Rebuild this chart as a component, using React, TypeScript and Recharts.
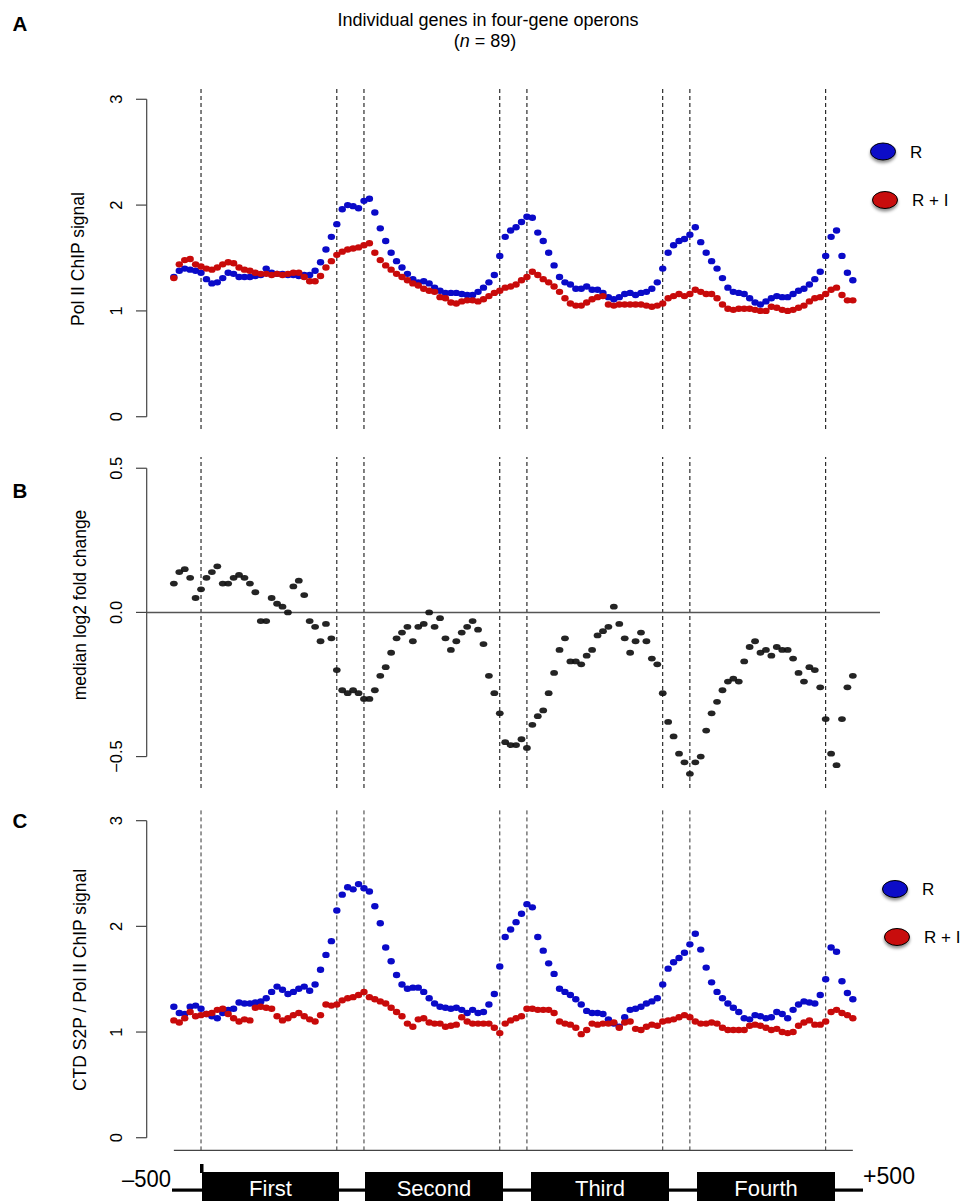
import React from 'react';
import { ComposedChart, Line, XAxis, YAxis, ReferenceLine } from 'recharts';

const FONT = '"Liberation Sans", Arial, Helvetica, sans-serif';

// meta-gene positions: upstream -500 = -1, each gene = 5 units, each spacer = 1 unit
const firstPosition = -1;
const positionStep = 0.2;
const geneEdges = [0, 5, 6, 11, 12, 17, 18, 23];
const genes = ['First', 'Second', 'Third', 'Fourth'];

// A: Pol II ChIP signal
const polIIR = [
  1.32, 1.38, 1.4, 1.39, 1.38, 1.36, 1.3, 1.26, 1.27, 1.31,
  1.36, 1.35, 1.32, 1.32, 1.32, 1.33, 1.34, 1.4, 1.36, 1.35,
  1.35, 1.34, 1.34, 1.33, 1.34, 1.34, 1.38, 1.46, 1.58, 1.7,
  1.82, 1.96, 2.0, 1.99, 1.97, 2.04, 2.06, 1.93, 1.78, 1.66,
  1.55, 1.47, 1.41, 1.35, 1.3, 1.27, 1.28, 1.26, 1.22, 1.19,
  1.17, 1.17, 1.17, 1.16, 1.15, 1.15, 1.18, 1.22, 1.27, 1.34,
  1.52, 1.7, 1.76, 1.79, 1.84, 1.89, 1.88, 1.74, 1.66, 1.55,
  1.43, 1.32, 1.27, 1.25, 1.21, 1.21, 1.23, 1.2, 1.2, 1.17,
  1.13, 1.11, 1.13, 1.16, 1.17, 1.15, 1.17, 1.18, 1.21, 1.27,
  1.4, 1.55, 1.62, 1.66, 1.68, 1.72, 1.79, 1.65, 1.55, 1.47,
  1.4, 1.31, 1.22, 1.18, 1.17, 1.16, 1.12, 1.08, 1.06, 1.09,
  1.12, 1.14, 1.13, 1.13, 1.16, 1.19, 1.21, 1.25, 1.3, 1.37,
  1.52, 1.7, 1.76, 1.52, 1.36, 1.29,
];
const polIIRI = [
  1.31, 1.44, 1.48, 1.49, 1.44, 1.42, 1.4, 1.39, 1.41, 1.44,
  1.46, 1.45, 1.41, 1.39, 1.38, 1.36, 1.35, 1.35, 1.34, 1.35,
  1.34, 1.35, 1.36, 1.36, 1.32, 1.28, 1.28, 1.33, 1.41, 1.47,
  1.53, 1.56, 1.58, 1.59, 1.6, 1.62, 1.64, 1.55, 1.48, 1.43,
  1.39, 1.35, 1.32, 1.29, 1.26, 1.24, 1.21, 1.19, 1.18, 1.13,
  1.12, 1.08, 1.07, 1.09, 1.1, 1.1, 1.09, 1.11, 1.14, 1.17,
  1.19, 1.22, 1.23, 1.25, 1.29, 1.32, 1.37, 1.34, 1.3, 1.27,
  1.23, 1.18, 1.12, 1.07, 1.05, 1.05, 1.08, 1.11, 1.13, 1.14,
  1.06, 1.05, 1.06, 1.06, 1.06, 1.06, 1.06, 1.05, 1.04, 1.05,
  1.07, 1.12, 1.14, 1.16, 1.14, 1.16, 1.2, 1.18, 1.16, 1.16,
  1.12, 1.06, 1.02, 1.01, 1.02, 1.02, 1.02, 1.01, 1.0, 1.0,
  1.04, 1.03, 1.01, 1.0, 1.01, 1.03, 1.05, 1.09, 1.12, 1.13,
  1.16, 1.2, 1.22, 1.15, 1.1, 1.1,
];

// B: median log2 fold change
const foldChange = [
  0.1, 0.14, 0.15, 0.12, 0.05, 0.08, 0.12, 0.14, 0.16, 0.1,
  0.1, 0.12, 0.13, 0.12, 0.1, 0.07, -0.03, -0.03, 0.05, 0.03,
  0.02, 0.0, 0.09, 0.11, 0.06, -0.03, -0.05, -0.1, -0.04, -0.09,
  -0.2, -0.27, -0.28, -0.27, -0.28, -0.3, -0.3, -0.27, -0.22, -0.19,
  -0.14, -0.09, -0.07, -0.05, -0.1, -0.05, -0.04, 0.0, -0.05, -0.02,
  -0.09, -0.13, -0.1, -0.07, -0.05, -0.03, -0.06, -0.11, -0.22, -0.28,
  -0.35, -0.45, -0.46, -0.46, -0.44, -0.47, -0.39, -0.36, -0.34, -0.28,
  -0.21, -0.13, -0.09, -0.17, -0.17, -0.18, -0.15, -0.13, -0.08, -0.065,
  -0.05, 0.02, -0.04, -0.09, -0.14, -0.1, -0.07, -0.1, -0.16, -0.18,
  -0.28, -0.38, -0.43, -0.49, -0.52, -0.56, -0.52, -0.5, -0.41, -0.35,
  -0.31, -0.27, -0.24, -0.23, -0.24, -0.17, -0.12, -0.1, -0.14, -0.13,
  -0.15, -0.12, -0.13, -0.13, -0.16, -0.21, -0.24, -0.19, -0.2, -0.26,
  -0.37, -0.49, -0.53, -0.37, -0.26, -0.22,
];

// C: CTD S2P / Pol II ChIP signal
const s2pR = [
  1.24, 1.18, 1.17, 1.24, 1.25, 1.22, 1.17, 1.15, 1.13, 1.18,
  1.21, 1.22, 1.28, 1.27, 1.27, 1.28, 1.29, 1.32, 1.38, 1.43,
  1.4, 1.36, 1.38, 1.41, 1.43, 1.39, 1.45, 1.59, 1.73, 1.86,
  2.15, 2.3, 2.37, 2.35, 2.4, 2.36, 2.33, 2.19, 2.03, 1.8,
  1.67, 1.54, 1.45, 1.41, 1.42, 1.42, 1.38, 1.32, 1.27, 1.24,
  1.23, 1.22, 1.23, 1.21, 1.18, 1.21, 1.18, 1.19, 1.26, 1.36,
  1.62, 1.9, 1.97, 2.04, 2.12, 2.21, 2.18, 1.9, 1.77, 1.65,
  1.55, 1.41, 1.38, 1.35, 1.31, 1.26, 1.2, 1.18, 1.18, 1.17,
  1.12, 1.08, 1.05, 1.14, 1.21, 1.22, 1.24, 1.27, 1.29, 1.32,
  1.45, 1.6, 1.66, 1.7, 1.75, 1.83, 1.93, 1.78, 1.61, 1.47,
  1.38, 1.32, 1.27, 1.23, 1.19, 1.13, 1.12, 1.16, 1.15, 1.13,
  1.14, 1.19, 1.17, 1.13, 1.21, 1.26, 1.29, 1.28, 1.27, 1.35,
  1.5, 1.8, 1.76, 1.48, 1.37, 1.31,
];
const s2pRI = [
  1.11, 1.09, 1.13, 1.19, 1.15, 1.16, 1.17, 1.18, 1.21, 1.22,
  1.17, 1.13, 1.1, 1.12, 1.11, 1.23, 1.24, 1.23, 1.22, 1.15,
  1.11, 1.13, 1.16, 1.18, 1.15, 1.12, 1.1, 1.16, 1.26, 1.25,
  1.26, 1.3, 1.32, 1.33, 1.35, 1.38, 1.33, 1.31, 1.29, 1.27,
  1.23, 1.19, 1.15, 1.08, 1.05, 1.12, 1.13, 1.09, 1.08, 1.08,
  1.05, 1.06, 1.07, 1.14, 1.1, 1.08, 1.08, 1.08, 1.08, 1.04,
  0.99, 1.08, 1.11, 1.13, 1.15, 1.22, 1.22, 1.21, 1.21, 1.21,
  1.18, 1.1, 1.08, 1.07, 1.04, 0.98, 1.02, 1.08, 1.07, 1.08,
  1.08, 1.09, 1.04, 1.09, 1.1, 1.03, 1.02, 1.05, 1.07, 1.06,
  1.1, 1.11, 1.12, 1.14, 1.16, 1.14, 1.1, 1.08, 1.08, 1.09,
  1.08, 1.04, 1.02, 1.02, 1.02, 1.02, 1.06, 1.07, 1.06, 1.04,
  1.02, 1.03, 1.0, 0.99, 1.0, 1.06, 1.09, 1.11, 1.07, 1.07,
  1.1, 1.19, 1.21, 1.18, 1.16, 1.13,
];

const positions = polIIR.map((_, i) => +(firstPosition + i * positionStep).toFixed(1));

const rowsA = positions.map((x, i) => ({ x, r: polIIR[i], ri: polIIRI[i] }));
const rowsB = positions.map((x, i) => ({ x, fc: foldChange[i] }));
const rowsC = positions.map((x, i) => ({ x, r: s2pR[i], ri: s2pRI[i] }));

const BLUE = '#0a0ac8';
const RED = '#c80a0a';
const PLOT_LEFT = 146.7;
const Y_AXIS_W = 60;

const blob = (fill: string, rx: number, ry: number, opacity = 1) => (p: any) => {
  if (p.cx == null || p.cy == null || p.value == null) return <g key={p.index} />;
  return <ellipse key={p.index} cx={p.cx} cy={p.cy} rx={rx} ry={ry} fill={fill} fillOpacity={opacity} />;
};

const yTick = (fmt: (v: number) => string) => (p: any) => (
  <text
    x={122}
    y={p.y}
    transform={`rotate(-90, 122, ${p.y})`}
    textAnchor="middle"
    fontSize={16.5}
    fontFamily={FONT}
    fill="#000"
  >
    {fmt(p.payload.value)}
  </text>
);

interface PanelProps {
  top: number;
  height: number;
  plotTop: number;
  plotBottom: number;
  domain: [number, number];
  ticks: number[];
  fmt: (v: number) => string;
  data: any[];
  dashColor: string;
  children: React.ReactNode;
  bottomLine?: boolean;
}

const Panel: React.FC<PanelProps> = ({
  top, height, plotTop, plotBottom, domain, ticks, fmt, data, dashColor, children, bottomLine,
}) => (
  <div style={{ position: 'absolute', left: 0, top, width: 962, height }}>
    <ComposedChart
      width={962}
      height={height}
      data={data}
      margin={{ top: plotTop - top, bottom: top + height - plotBottom, left: PLOT_LEFT - Y_AXIS_W, right: 82 }}>
      <XAxis type="number" dataKey="x" domain={[-2, 25]} hide />
      <YAxis
        type="number"
        width={Y_AXIS_W}
        domain={domain}
        ticks={ticks}
        allowDataOverflow
        axisLine={false}
        tickLine={{ stroke: '#444', strokeWidth: 1.2 }}
        tickSize={10.7}
        tick={yTick(fmt)}
        interval={0}
      />
      {geneEdges.map((g) => (
        <ReferenceLine key={g} x={g} stroke={dashColor} strokeWidth={1} strokeDasharray="4 3" />
      ))}
      <ReferenceLine
        segment={[{ x: -2, y: ticks[0] }, { x: -2, y: ticks[ticks.length - 1] }]}
        stroke="#444"
        strokeWidth={1.2}
        ifOverflow="visible"
      />
      {bottomLine && (
        <ReferenceLine
          segment={[{ x: -1, y: domain[0] }, { x: 24, y: domain[0] }]}
          stroke="#444"
          strokeWidth={1.2}
          ifOverflow="visible"
        />
      )}
      {children}
    </ComposedChart>
  </div>
);

const LegendKey: React.FC<{ cx: number; cy: number; fill: string; label: string }> = ({ cx, cy, fill, label }) => (
  <g>
    <ellipse cx={cx} cy={cy} rx={12.5} ry={8.5} fill={fill} stroke="#000" strokeWidth={1} filter="url(#keyShadow)" />
    <text x={cx + 27} y={cy + 6} fontSize={17} fontFamily={FONT} fill="#000">
      {label}
    </text>
  </g>
);

const geneBoxes = [
  [202, 339],
  [365, 503],
  [531, 669],
  [697, 835],
];

const App: React.FC = () => (
  <div style={{ position: 'absolute', left: 0, top: 0, width: 962, height: 1201, background: '#fff', overflow: 'hidden' }}>
    <Panel
      top={0}
      height={450}
      plotTop={87}
      plotBottom={429}
      domain={[-0.116, 3.116]}
      ticks={[0, 1, 2, 3]}
      fmt={(v) => String(v)}
      data={rowsA}
      dashColor="#000">
      <Line dataKey="r" stroke="none" dot={blob(BLUE, 3.7, 3.2)} activeDot={false} isAnimationActive={false} />
      <Line dataKey="ri" stroke="none" dot={blob(RED, 3.7, 3.2)} activeDot={false} isAnimationActive={false} />
    </Panel>
    <Panel
      top={440}
      height={360}
      plotTop={457}
      plotBottom={788}
      domain={[-0.609, 0.539]}
      ticks={[-0.5, 0, 0.5]}
      fmt={(v) => (v < 0 ? '\u2212' : '') + Math.abs(v).toFixed(1)}
      data={rowsB}
      dashColor="#000">
      <ReferenceLine y={0} stroke="#555" strokeWidth={1.5} />
      <Line dataKey="fc" stroke="none" dot={blob('#111', 3.9, 2.9, 0.92)} activeDot={false} isAnimationActive={false} />
    </Panel>
    <Panel
      top={795}
      height={370}
      plotTop={808}
      plotBottom={1150.4}
      domain={[-0.12, 3.12]}
      ticks={[0, 1, 2, 3]}
      fmt={(v) => String(v)}
      data={rowsC}
      dashColor="#333"
      bottomLine>
      <Line dataKey="r" stroke="none" dot={blob(BLUE, 3.7, 3.2)} activeDot={false} isAnimationActive={false} />
      <Line dataKey="ri" stroke="none" dot={blob(RED, 3.7, 3.2)} activeDot={false} isAnimationActive={false} />
    </Panel>

    <svg
      width={962}
      height={1201}
      style={{ position: 'absolute', left: 0, top: 0, pointerEvents: 'none' }}
      fontFamily={FONT}>
      <defs>
        <filter id="keyShadow" x="-50%" y="-50%" width="200%" height="220%">
          <feDropShadow dx="0" dy="2.5" stdDeviation="1.6" floodColor="#000" floodOpacity="0.45" />
        </filter>
      </defs>

      <text x={488} y={26} fontSize={18} textAnchor="middle">Individual genes in four-gene operons</text>
      <text x={485} y={47} fontSize={18} textAnchor="middle">
        (<tspan fontStyle="italic">n</tspan> = 89)
      </text>

      <text x={12.5} y={30.7} fontSize={20.5} fontWeight="bold">A</text>
      <text x={12.5} y={498} fontSize={20.5} fontWeight="bold">B</text>
      <text x={12.5} y={828} fontSize={20.5} fontWeight="bold">C</text>

      <text x={84} y={259} transform="rotate(-90, 84, 259)" fontSize={17.5} textAnchor="middle">Pol II ChIP signal</text>
      <text x={86} y={605} transform="rotate(-90, 86, 605)" fontSize={17.5} textAnchor="middle">median log2 fold change</text>
      <text x={86} y={980} transform="rotate(-90, 86, 980)" fontSize={17.5} textAnchor="middle">CTD S2P / Pol II ChIP signal</text>

      <LegendKey cx={883} cy={151.5} fill={BLUE} label="R" />
      <LegendKey cx={885} cy={200} fill={RED} label="R + I" />
      <LegendKey cx={895} cy={889} fill={BLUE} label="R" />
      <LegendKey cx={897} cy={937} fill={RED} label="R + I" />

      {/* gene diagram */}
      <rect x={172} y={1188.5} width={691} height={3.2} fill="#000" />
      <rect x={200} y={1164} width={3.5} height={9} fill="#000" />
      {geneBoxes.map(([a, b], i) => (
        <g key={genes[i]}>
          <rect x={a} y={1172} width={b - a} height={32} fill="#000" />
          <text x={(a + b) / 2} y={1196} fontSize={22} fill="#fff" textAnchor="middle">{genes[i]}</text>
        </g>
      ))}
      <text x={171} y={1187} fontSize={24} textAnchor="end" textLength={49} lengthAdjust="spacingAndGlyphs">{'\u2013500'}</text>
      <text x={863} y={1184} fontSize={24} textLength={52} lengthAdjust="spacingAndGlyphs">+500</text>
    </svg>
  </div>
);

export default App;
